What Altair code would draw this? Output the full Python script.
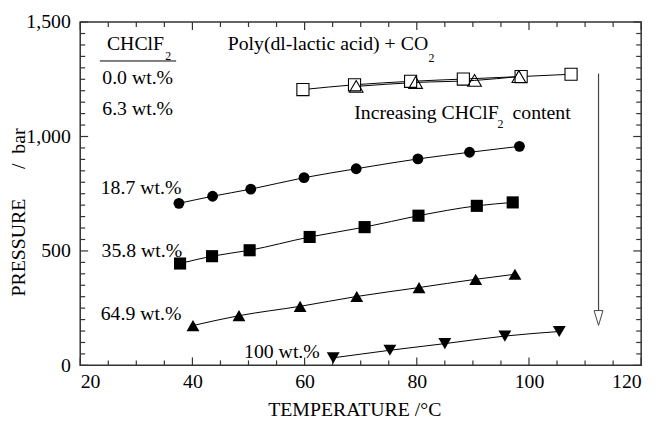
import altair as alt
import pandas as pd

FONT = "Liberation Serif"

# ---- data ----
t_00 = [59.7, 68.9, 78.9, 88.3, 98.6, 107.5]
p_00 = [1205, 1226, 1241, 1251, 1262, 1272]
t_63 = [69.2, 79.8, 90.3, 98.2]
p_63 = [1219, 1236, 1245, 1262]
t_187 = [37.6, 43.6, 50.4, 59.9, 69.2, 80.2, 89.4, 98.3]
p_187 = [708, 739, 770, 820, 859, 902, 931, 957]
t_358 = [37.8, 43.5, 50.2, 60.9, 70.7, 80.3, 90.7, 97.1]
p_358 = [445, 477, 503, 561, 604, 654, 697, 712]
t_649 = [40.1, 48.3, 59.2, 69.3, 80.4, 90.5, 97.5]
p_649 = [174, 217, 258, 301, 340, 376, 398]
t_100 = [65.1, 75.2, 85.0, 95.7, 105.4]
p_100 = [33, 66, 95, 128, 148]

x_major = [20, 40, 60, 80, 100, 120]
x_minor = [25, 30, 35, 45, 50, 55, 65, 70, 75, 85, 90, 95, 105, 110, 115]
y_major = [0, 500, 1000, 1500]
y_minor = [50, 100, 150, 200, 250, 300, 350, 400, 450, 550, 600, 650, 700, 750,
           800, 850, 900, 950, 1050, 1100, 1150, 1200, 1250, 1300, 1350, 1400, 1450]

# annotation texts (positions in data units)
ann_text = ["CHClF", "0.0 wt.%", "6.3 wt.%", "Poly(dl-lactic acid) + CO",
            "Increasing CHClF", "content", "18.7 wt.%", "35.8 wt.%",
            "64.9 wt.%", "100 wt.%"]
ann_t = [24.76, 23.93, 23.93, 46.28, 68.85, 97.07, 23.65, 23.8, 23.65, 49.2]
ann_p = [1378, 1229, 1092, 1378, 1076, 1076, 748, 474, 200, 30]
sub_text = ["2", "2", "2"]
sub_t = [35.17, 82.08, 94.4]
sub_p = [1334, 1327, 1039]

# legend underline and arrow
uline_t = [23.5]
uline_t2 = [37.1]
uline_p = [1330]
arrow_t = [112.4]
arrow_p_top = [1275]
arrow_p_head = [207]
arrow_p_shaft_end = [230]

X_DOM = [20, 120]
Y_DOM = [0, 1500]
W, H = 567, 347
MAJ, MIN = 8, 5
xs = alt.Scale(domain=X_DOM, nice=False, zero=False)
ys = alt.Scale(domain=Y_DOM, nice=False, zero=False)


def enc(chart):
    return chart.encode(
        x=alt.X("T:Q", scale=xs, axis=None),
        y=alt.Y("P:Q", scale=ys, axis=None),
    )


def series(t, p, shape, filled, size, fill=None):
    d = pd.DataFrame({"T": t, "P": p})
    line = enc(alt.Chart(d).mark_line(color="black", strokeWidth=1, interpolate="monotone"))
    if filled:
        pts = enc(alt.Chart(d).mark_point(shape=shape, filled=True, size=size, color="black", opacity=1))
    else:
        kw = dict(shape=shape, size=size, stroke="black", strokeWidth=1.1, opacity=1)
        if fill:
            pts = enc(alt.Chart(d).mark_point(filled=True, fill=fill, **kw))
        else:
            pts = enc(alt.Chart(d).mark_point(filled=False, **kw))
    return line, pts


l00, s00 = series(t_00, p_00, "square", False, 150, fill="white")
l63, s63 = series(t_63, p_63, "triangle-up", False, 190)
l187, s187 = series(t_187, p_187, "circle", True, 120)
l358, s358 = series(t_358, p_358, "square", True, 150)
l649, s649 = series(t_649, p_649, "triangle-up", True, 170)
l100, s100 = series(t_100, p_100, "triangle-down", True, 170)

ann_df = pd.DataFrame({"T": ann_t, "P": ann_p, "txt": ann_text})
ann = enc(alt.Chart(ann_df).mark_text(align="left", baseline="alphabetic", font=FONT,
                                      fontSize=20, color="black")).encode(text="txt:N")
sub_df = pd.DataFrame({"T": sub_t, "P": sub_p, "txt": sub_text})
sub = enc(alt.Chart(sub_df).mark_text(align="left", baseline="alphabetic", font=FONT,
                                      fontSize=12, color="black")).encode(text="txt:N")

ul_df = pd.DataFrame({"T": uline_t, "T2": uline_t2, "P": uline_p})
uline = alt.Chart(ul_df).mark_rule(color="black", strokeWidth=1).encode(
    x=alt.X("T:Q", scale=xs, axis=None), x2="T2:Q",
    y=alt.Y("P:Q", scale=ys, axis=None))

ar_df = pd.DataFrame({"T": arrow_t, "P": arrow_p_top, "P2": arrow_p_shaft_end})
shaft = alt.Chart(ar_df).mark_rule(color="#444", strokeWidth=1.2).encode(
    x=alt.X("T:Q", scale=xs, axis=None),
    y=alt.Y("P:Q", scale=ys, axis=None), y2="P2:Q")
head_df = pd.DataFrame({"T": arrow_t, "P": arrow_p_head})
# custom symbol paths are scaled by sqrt(size)/2 -> 15 px tall, 9 px wide
head = enc(alt.Chart(head_df).mark_point(
    shape="M-0.3,-0.5L0,0.5L0.3,-0.5Z", size=900, filled=True, fill="white",
    stroke="#444", strokeWidth=1, opacity=1))

# ---- inward ticks as stroked symbol marks placed on the frame ----
TICK_COLOR = "#333"


def tick_points(t_vals, p_vals, path, length_px):
    d = pd.DataFrame({"T": t_vals, "P": p_vals})
    return enc(alt.Chart(d).mark_point(
        shape=path, size=(2 * length_px / 2.0) ** 2, filled=False,
        stroke=TICK_COLOR, strokeWidth=1.2, opacity=1))


UP, DOWN, RIGHT, LEFT = "M0,0L0,-2", "M0,0L0,2", "M0,0L2,0", "M0,0L-2,0"
tick_layers = []
for vals, ln in ((x_major, MAJ), (x_minor, MIN)):
    tick_layers.append(tick_points(vals, [Y_DOM[0]] * len(vals), UP, ln))
    tick_layers.append(tick_points(vals, [Y_DOM[1]] * len(vals), DOWN, ln))
for vals, ln in ((y_major, MAJ), (y_minor, MIN)):
    tick_layers.append(tick_points([X_DOM[0]] * len(vals), vals, RIGHT, ln))
    tick_layers.append(tick_points([X_DOM[1]] * len(vals), vals, LEFT, ln))

# ---- labels/titles from real axes on an invisible layer ----
dummy = pd.DataFrame({"T": [20], "P": [0]})

lab_layer = alt.Chart(dummy).mark_point(opacity=0).encode(
    x=alt.X("T:Q", scale=xs, axis=alt.Axis(
        orient="bottom", values=x_major, ticks=False, domain=False, grid=False,
        labelPadding=6, labelFont=FONT, labelFontSize=20, labelColor="black",
        title="TEMPERATURE /°C", titleFont=FONT, titleFontSize=20,
        titleFontWeight="normal", titleColor="black",
        titleX=277, titleY=51, titleBaseline="alphabetic", titleAlign="center")),
    y=alt.Y("P:Q", scale=ys, axis=alt.Axis(
        orient="left", values=y_major, format=",.0f", ticks=False, domain=False, grid=False,
        labelPadding=10, labelFont=FONT, labelFontSize=20, labelColor="black",
        title="PRESSURE\u2003\u2002/\u2002bar", titleFont=FONT, titleFontSize=20,
        titleFontWeight="normal", titleColor="black",
        titleX=-56, titleY=192, titleAngle=270, titleBaseline="alphabetic",
        titleAlign="center")),
)

chart = alt.layer(
    *tick_layers,
    l00, l63, s00, s63,
    l187, s187, l358, s358, l649, s649, l100, s100,
    uline, shaft, head, ann, sub,
    lab_layer,
).resolve_axis(x="independent", y="independent").properties(
    width=W, height=H,
    autosize=alt.AutoSizeParams(type="none"),
    padding={"left": 73, "top": 12, "right": 16, "bottom": 52},
).configure_view(stroke="#333", strokeWidth=1.5)

chart.save("out.html", embed_options={"renderer": "svg", "actions": False})
